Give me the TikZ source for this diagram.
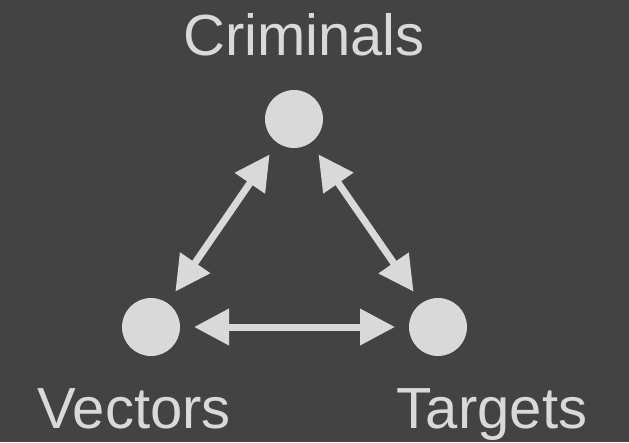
\documentclass[tikz,border=0pt]{standalone}
\usepackage{fontspec}
\setmainfont{Liberation Sans}
\usetikzlibrary{arrows.meta}
\definecolor{bggray}{HTML}{434343}
\definecolor{dotgray}{HTML}{D9D9D9}
\begin{document}
\begin{tikzpicture}[x=1pt,y=-1pt,
    dot/.style={circle,fill=dotgray,minimum size=58pt,inner sep=0pt,outer sep=14pt},
    lbl/.style={text=dotgray,anchor=base,inner sep=0pt,font=\fontsize{58}{60}\selectfont}]
  \fill[bggray] (0,0) rectangle (629,442);
  \useasboundingbox (0,0) rectangle (629,442);
  \draw
    (294,119) node[dot] (criminals){}
    (151,327) node[dot] (vectors){}
    (438,327) node[dot] (targets){}
    (304,55) node[lbl] (criminalslbl){Criminals}
    (134,428) node[lbl] (vectorslbl){Vectors}
    (492,428) node[lbl] (targetslbl){Targets};
  \begin{scope}[draw=dotgray,fill=dotgray,line width=7pt,
      {Triangle[length=35pt,width=35pt]}-{Triangle[length=35pt,width=35pt]}]
    \draw (vectors) to (criminals);
    \draw (criminals) to (targets);
    \draw (vectors) to (targets);
  \end{scope}
\end{tikzpicture}
\end{document}
